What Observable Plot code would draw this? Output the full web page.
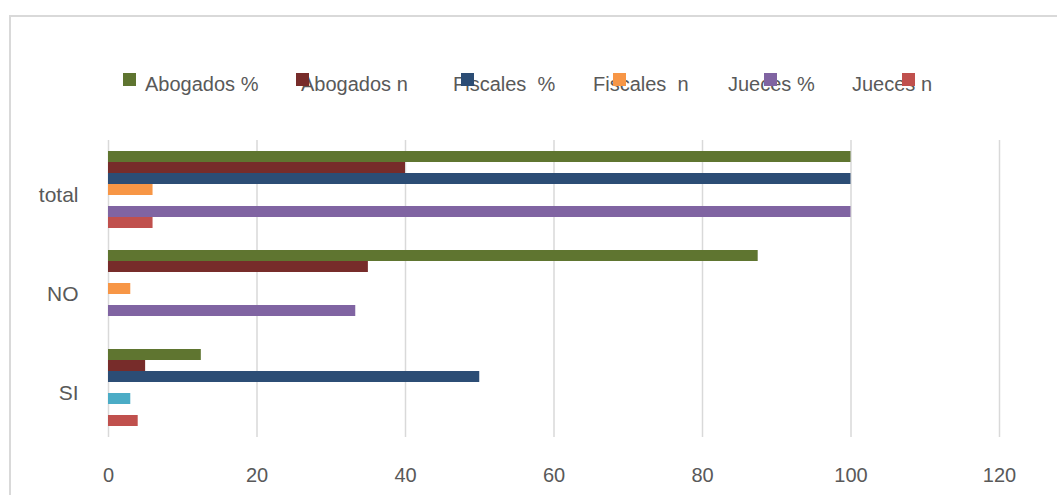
<!DOCTYPE html>
<html>
<head>
<meta charset="utf-8">
<script src="https://cdn.jsdelivr.net/npm/d3@7"></script>
<script src="https://cdn.jsdelivr.net/npm/@observablehq/plot@0.6"></script>
<style>
  html, body { margin: 0; padding: 0; background: #fff; }
  #wrap { position: relative; width: 1057px; height: 495px; overflow: hidden; font-family: "Liberation Sans", Arial, sans-serif; color: #595959; }
  #frame { position: absolute; left: 9px; top: 15px; width: 1060px; height: 500px; border-top: 2px solid #d9d9d9; border-left: 2px solid #d9d9d9; box-sizing: border-box; }
  #chart { position: absolute; left: 0; top: 0; }
  #legend { position: absolute; left: 0; top: 0; width: 1057px; height: 120px; }
  .lg-text { position: absolute; top: 74px; font-size: 20px; line-height: 20px; white-space: pre; color: #595959; }
  .lg-key { position: absolute; top: 73px; width: 13px; height: 13px; }
</style>
</head>
<body>
<div id="wrap">
  <div id="frame"></div>
  <div id="chart"></div>
  <div id="legend"></div>
</div>
<script>
// ---- data ----
const categories = ["total", "NO", "SI"];
const seriesNames = ["Abogados %", "Abogados n", "Fiscales  %", "Fiscales  n", "Serie 5", "Jueces %", "Jueces n"];
const seriesColors = ["#5f7530", "#772c2a", "#2c4d75", "#f79646", "#4bacc6", "#8064a2", "#c0504d"];
const legendSeries = ["Abogados %", "Abogados n", "Fiscales  %", "Fiscales  n", "Jueces %", "Jueces n"];
const abogadosPct = [100, 87.5, 12.5];
const abogadosN = [40, 35, 5];
const fiscalesPct = [100, 0, 50];
const fiscalesN = [6, 3, 0];
const serie5 = [0, 0, 3];
const juecesPct = [100, 33.3, 0];
const juecesN = [6, 0, 4];
const xTicks = [0, 20, 40, 60, 80, 100, 120];

const seriesValues = [abogadosPct, abogadosN, fiscalesPct, fiscalesN, serie5, juecesPct, juecesN];
const rows = [];
categories.forEach((c, i) => {
  seriesNames.forEach((s, j) => rows.push({category: c, series: s, value: seriesValues[j][i]}));
});

const chart = Plot.plot({
  width: 1057,
  height: 495,
  marginTop: 140,
  marginBottom: 58,
  marginLeft: 108,
  marginRight: 58,
  style: {fontFamily: "'Liberation Sans', Arial, sans-serif", fontSize: "20px", color: "#595959", background: "transparent", overflow: "visible"},
  x: {domain: [0, 120], label: null},
  fy: {domain: categories, padding: 0, label: null},
  y: {domain: seriesNames, paddingInner: 0, paddingOuter: 0.85, axis: null},
  color: {domain: seriesNames, range: seriesColors},
  marks: [
    Plot.gridX(xTicks, {stroke: "#d9d9d9", strokeOpacity: 1, strokeWidth: 1.5}),
    Plot.axisX(xTicks, {tickSize: 0, tickPadding: 30, label: null, fontSize: 20}),
    Plot.axisFy({anchor: "left", tickSize: 0, tickPadding: 30, label: null, fontSize: 21, dy: 5}),
    Plot.barX(rows, {x: "value", y: "series", fy: "category", fill: "series"})
  ]
});
document.getElementById("chart").appendChild(chart);

// ---- legend (HTML, overlaid above the plot) ----
const legend = document.getElementById("legend");
const keyX = [123, 296, 461, 613, 764, 902];
const textX = [145, 301, 453, 593, 728, 852];
legendSeries.forEach((s, i) => {
  const t = document.createElement("span");
  t.className = "lg-text";
  t.style.left = textX[i] + "px";
  t.textContent = s;
  legend.appendChild(t);
});
legendSeries.forEach((s, i) => {
  const k = document.createElement("span");
  k.className = "lg-key";
  k.style.left = keyX[i] + "px";
  k.style.background = seriesColors[seriesNames.indexOf(s)];
  legend.appendChild(k);
});
</script>
</body>
</html>
